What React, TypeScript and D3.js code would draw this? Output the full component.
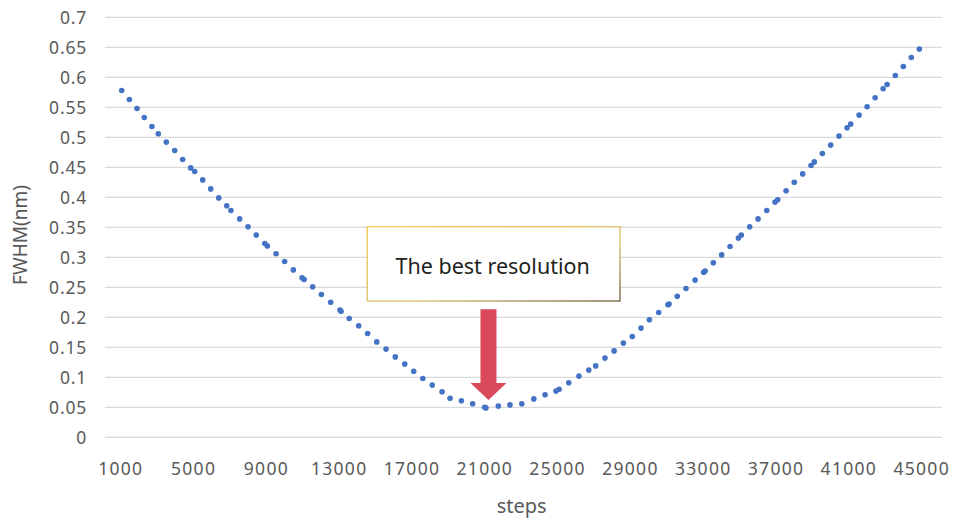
import React from "react";
import * as d3 from "d3";

const steps: number[] = [
  1050, 1470, 1890, 2290, 2710, 3060, 3500, 3960, 4400, 4840, 5060, 5500, 5940, 6380, 6820, 7050,
  7530, 7990, 8440, 8910, 9050, 9530, 10000, 10480, 10960, 11070, 11540, 12020, 12530, 13040, 13100,
  13550, 14070, 14560, 15060, 15570, 16080, 16600, 17090, 17590, 18110, 18650, 19090, 19710, 20330,
  20990, 21060, 21740, 22380, 23030, 23690, 24310, 24910, 25080, 25610, 26170, 26710, 27090, 27600,
  28100, 28610, 29100, 29580, 30040, 30550, 31060, 31120, 31570, 32050, 32550, 33020, 33100, 33550,
  34010, 34470, 34930, 35090, 35550, 36010, 36490, 36940, 37090, 37550, 38000, 38460, 38920, 39100,
  39540, 40000, 40460, 40900, 41100, 41560, 42000, 42440, 42880, 43100, 43550, 43990, 44430, 44870,
];
const fwhm: number[] = [
  0.578, 0.563, 0.548, 0.533, 0.518, 0.506, 0.492, 0.478, 0.463, 0.449, 0.443, 0.429, 0.414, 0.399,
  0.386, 0.378, 0.364, 0.351, 0.337, 0.323, 0.319, 0.306, 0.293, 0.279, 0.266, 0.263, 0.251, 0.238,
  0.225, 0.212, 0.210, 0.198, 0.186, 0.173, 0.159, 0.147, 0.134, 0.122, 0.110, 0.098, 0.087, 0.076,
  0.065, 0.061, 0.056, 0.050, 0.049, 0.052, 0.054, 0.056, 0.064, 0.071, 0.077, 0.080, 0.091, 0.102,
  0.112, 0.119, 0.132, 0.144, 0.157, 0.168, 0.182, 0.196, 0.208, 0.221, 0.222, 0.235, 0.248, 0.262,
  0.275, 0.277, 0.291, 0.304, 0.318, 0.332, 0.337, 0.351, 0.364, 0.378, 0.392, 0.396, 0.411, 0.425,
  0.439, 0.453, 0.459, 0.473, 0.487, 0.502, 0.516, 0.522, 0.537, 0.551, 0.566, 0.581, 0.588, 0.603,
  0.618, 0.633, 0.647,
];
const xTicks: number[] = [1000, 5000, 9000, 13000, 17000, 21000, 25000, 29000, 33000, 37000, 41000, 45000];
const yTicks: number[] = d3.range(0, 15).map((i) => +(i * 0.05).toFixed(2));
const annotationText = "The best resolution";
const xTitle = "steps";
const yTitle = "FWHM(nm)";

export default function App() {
  const W = 954;
  const H = 523;
  const x = d3.scaleLinear().domain([1000, 45000]).range([120.8, 921.7]);
  const y = d3.scaleLinear().domain([0, 0.7]).range([437.3, 17.3]);
  const gridX0 = 105;
  const gridX1 = 942;
  const font = "'Noto Sans', 'Open Sans', sans-serif";
  const gray = "#595959";

  const boxL = 367.3, boxT = 226.7, boxR = 620, boxB = 301;
  const tipX = x(21200), tipY = y(0.062);
  const shaftW = 16, headW = 36, headH = 17, shaftTop = 309.3;
  const arrowPath = [
    [tipX - shaftW / 2, shaftTop],
    [tipX + shaftW / 2, shaftTop],
    [tipX + shaftW / 2, tipY - headH],
    [tipX + headW / 2, tipY - headH],
    [tipX, tipY],
    [tipX - headW / 2, tipY - headH],
    [tipX - shaftW / 2, tipY - headH],
  ];

  return (
    <svg
      width={W}
      height={H}
      style={{ position: "absolute", left: 0, top: 0, background: "#fff" }}
    >
      <defs>
        <linearGradient id="boxGrad" x1="0" y1="0" x2="1" y2="1">
          <stop offset="0" stopColor="#f2c94c" />
          <stop offset="0.6" stopColor="#d9bf6a" />
          <stop offset="1" stopColor="#6b5b3a" />
        </linearGradient>
      </defs>
      {yTicks.map((t) => (
        <line
          key={"g" + t}
          x1={gridX0}
          x2={gridX1}
          y1={y(t)}
          y2={y(t)}
          stroke="#d9d9d9"
          strokeWidth={1.3}
        />
      ))}
      {yTicks.map((t) => (
        <text
          key={"yt" + t}
          x={87}
          y={y(t)}
          textAnchor="end"
          dominantBaseline="central"
          fontFamily={font}
          fontSize={17.5}
          fill={gray}
          letterSpacing={0.8}
        >
          {String(t)}
        </text>
      ))}
      {xTicks.map((t) => (
        <text
          key={"xt" + t}
          x={x(t)}
          y={475}
          textAnchor="middle"
          fontFamily={font}
          fontSize={17.5}
          fill={gray}
          letterSpacing={1.3}
        >
          {String(t)}
        </text>
      ))}
      <text
        x={521.7}
        y={513}
        textAnchor="middle"
        fontFamily={font}
        fontSize={20}
        fill={gray}
      >
        {xTitle}
      </text>
      <text
        transform={`translate(27,235) rotate(-90)`}
        textAnchor="middle"
        fontFamily={font}
        fontSize={19}
        fill={gray}
      >
        {yTitle}
      </text>
      {steps.map((s, i) => (
        <circle key={"p" + i} cx={x(s)} cy={y(fwhm[i])} r={2.8} fill="#4472C4" />
      ))}
      <rect
        x={boxL}
        y={boxT}
        width={boxR - boxL}
        height={boxB - boxT}
        fill="#fff"
        stroke="url(#boxGrad)"
        strokeWidth={1.3}
      />
      <text
        x={(boxL + boxR) / 2 - 1}
        y={274}
        textAnchor="middle"
        fontFamily={font}
        fontSize={21.5}
        fill="#231f20"
      >
        {annotationText}
      </text>
      <path d={d3.line()(arrowPath as [number, number][]) + "Z"} fill="#D9485B" />
    </svg>
  );
}
